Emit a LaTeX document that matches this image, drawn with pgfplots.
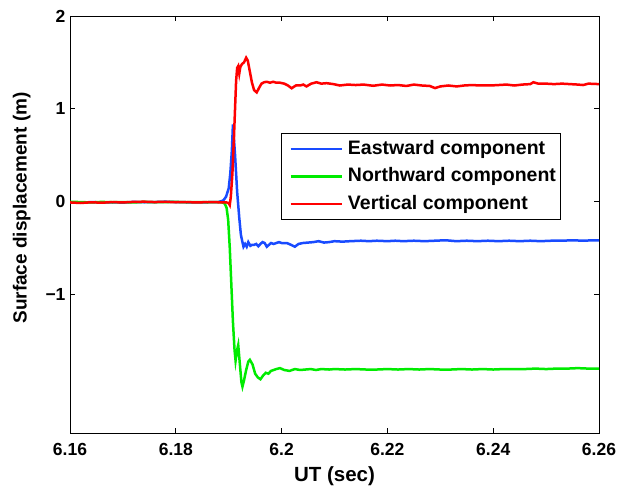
\documentclass[border=0pt]{standalone}
\usepackage{pgfplots}
\pgfplotsset{compat=1.18}
\usepackage{fontspec}
\setmainfont{Liberation Sans}
\definecolor{cblue}{RGB}{25,75,255}
\definecolor{cgreen}{RGB}{0,235,0}
\definecolor{cred}{RGB}{255,0,0}
\begin{document}
\begin{tikzpicture}
\begin{axis}[
  scale only axis, width=529pt, height=417pt,
  xmin=6.16, xmax=6.26, ymin=-2.5, ymax=2,
  xtick={6.16,6.18,6.20,6.22,6.24,6.26},
  xticklabels={6.16,6.18,6.2,6.22,6.24,6.26},
  ytick={-1,0,1,2}, yticklabels={−1,0,1,2},
  tick align=inside, tick pos=both, major tick length=5pt,
  axis line style={line width=0.9pt},
  every tick/.style={line width=0.8pt, black},
  ticklabel style={font=\fontsize{17.5}{20}\selectfont\bfseries},
  xticklabel style={anchor=base, yshift=-22pt},
  yticklabel style={xshift=-1pt},
  xlabel={UT (sec)}, ylabel={Surface displacement (m)},
  every axis x label/.style={at={(axis description cs:0.5,-0.1168)}, anchor=base,
    font=\fontsize{20.5}{24}\selectfont\bfseries},
  every axis y label/.style={at={(axis description cs:-0.0913,0.5396)}, rotate=90, anchor=center,
    font=\fontsize{19}{23}\selectfont\bfseries},
  legend style={at={(axis description cs:0.399,0.719)}, anchor=north west,
    draw=black, line width=0.8pt, fill=white,
    font=\fontsize{19.5}{22}\selectfont\bfseries,
    row sep=5.5pt, inner xsep=2pt, inner ysep=4.5pt,
    nodes={inner xsep=2pt, text height=14pt, text depth=4pt}},
  legend cell align=left,
  legend image code/.code={\draw[#1, line width=2.5pt] (6pt,0pt) -- (57pt,0pt); \path (0pt,0pt) (60pt,0pt);},
  clip=true,
]
\coordinate (sw) at (rel axis cs:0,0);
\coordinate (ne) at (rel axis cs:1,1);
% Eastward
\addplot[cblue, line width=2.5pt] coordinates {
(6.160,-0.010) (6.162,-0.015) (6.164,-0.008) (6.166,-0.012) (6.168,-0.010)
(6.170,-0.014) (6.172,-0.006) (6.174,-0.010) (6.176,-0.008) (6.178,-0.004)
(6.180,-0.008) (6.182,-0.010) (6.184,-0.012) (6.186,-0.010) (6.188,-0.008)
(6.1885,0.00) (6.189,0.01) (6.1895,0.05) (6.1900,0.14) (6.1903,0.30)
(6.1906,0.55) (6.1908,0.83) (6.1912,0.50) (6.1916,0.10) (6.1920,-0.18)
(6.1923,-0.36) (6.1926,-0.44) (6.1928,-0.49) (6.1931,-0.46) (6.1934,-0.49)
(6.1937,-0.44) (6.1941,-0.48) (6.1944,-0.47) (6.1948,-0.47) (6.1952,-0.46)
(6.1956,-0.485) (6.1960,-0.46) (6.1964,-0.44) (6.1968,-0.45) (6.1972,-0.49)
(6.1976,-0.47) (6.1980,-0.45) (6.1985,-0.46) (6.1990,-0.45) (6.1995,-0.44)
(6.2000,-0.45) (6.2010,-0.45) (6.2018,-0.47) (6.2025,-0.49) (6.2032,-0.46)
(6.2040,-0.45) (6.2050,-0.445) (6.2060,-0.44) (6.2070,-0.43) (6.2080,-0.445)
(6.2090,-0.44) (6.2100,-0.43) (6.2115,-0.435) (6.2130,-0.43) (6.2150,-0.425)
(6.2165,-0.43) (6.2180,-0.425) (6.2200,-0.43) (6.2215,-0.425) (6.2230,-0.43)
(6.2250,-0.425) (6.2270,-0.43) (6.2290,-0.425) (6.2310,-0.42) (6.2330,-0.43)
(6.2350,-0.425) (6.2370,-0.43) (6.2390,-0.425) (6.2410,-0.43) (6.2430,-0.425)
(6.2450,-0.43) (6.2470,-0.425) (6.2490,-0.43) (6.2510,-0.425) (6.2530,-0.425)
(6.2550,-0.42) (6.2570,-0.425) (6.2590,-0.42) (6.2600,-0.42)
};
\addlegendentry{Eastward component}
% Northward
\addplot[cgreen, line width=2.5pt] coordinates {
(6.160,-0.005) (6.162,-0.008) (6.164,-0.012) (6.166,-0.006) (6.168,-0.010)
(6.170,-0.008) (6.172,-0.012) (6.174,-0.006) (6.176,-0.010) (6.178,-0.008)
(6.180,-0.006) (6.182,-0.010) (6.184,-0.008) (6.186,-0.010) (6.188,-0.008)
(6.1885,-0.01) (6.1890,-0.015) (6.1893,-0.03) (6.1896,-0.07) (6.1899,-0.20)
(6.1902,-0.50) (6.1905,-0.90) (6.1908,-1.30) (6.1911,-1.60) (6.1913,-1.72)
(6.1916,-1.60) (6.1918,-1.55) (6.1921,-1.75) (6.1924,-1.95) (6.1926,-2.00)
(6.1929,-1.93) (6.1933,-1.82) (6.1937,-1.73) (6.1940,-1.71) (6.1945,-1.76)
(6.1950,-1.86) (6.1955,-1.90) (6.1960,-1.92) (6.1965,-1.88) (6.1970,-1.85)
(6.1975,-1.86) (6.1980,-1.83) (6.1985,-1.82) (6.1990,-1.81) (6.1997,-1.80)
(6.2005,-1.82) (6.2015,-1.83) (6.2025,-1.81) (6.2035,-1.82) (6.2045,-1.815)
(6.2055,-1.81) (6.2065,-1.82) (6.2075,-1.81) (6.2090,-1.815) (6.2100,-1.81)
(6.2120,-1.815) (6.2140,-1.81) (6.2160,-1.815) (6.2180,-1.815) (6.2200,-1.81)
(6.2220,-1.815) (6.2240,-1.81) (6.2260,-1.815) (6.2280,-1.81) (6.2300,-1.815)
(6.2320,-1.815) (6.2340,-1.81) (6.2360,-1.815) (6.2380,-1.81) (6.2400,-1.815)
(6.2420,-1.81) (6.2440,-1.81) (6.2460,-1.81) (6.2480,-1.805) (6.2500,-1.81)
(6.2520,-1.805) (6.2540,-1.805) (6.2560,-1.80) (6.2580,-1.805) (6.2600,-1.805)
};
\addlegendentry{Northward component}
% Vertical
\addplot[cred, line width=2.5pt] coordinates {
(6.160,-0.012) (6.162,-0.018) (6.164,-0.010) (6.166,-0.015) (6.168,-0.008)
(6.170,-0.012) (6.172,-0.006) (6.174,-0.004) (6.176,-0.008) (6.178,-0.005)
(6.180,-0.010) (6.182,-0.008) (6.184,-0.012) (6.186,-0.008) (6.188,-0.010)
(6.1890,-0.01) (6.1895,-0.01) (6.1900,-0.02) (6.1902,-0.04) (6.1904,0.05)
(6.1907,0.30) (6.1910,0.70) (6.1912,1.00) (6.1914,1.30) (6.1916,1.44)
(6.1918,1.46) (6.1920,1.38) (6.1922,1.45) (6.1925,1.48) (6.1929,1.50)
(6.1933,1.55) (6.1936,1.52) (6.1940,1.40) (6.1944,1.28) (6.1948,1.20)
(6.1953,1.175) (6.1957,1.22) (6.1962,1.27) (6.1967,1.285) (6.1972,1.29)
(6.1978,1.28) (6.1984,1.29) (6.1990,1.28) (6.1997,1.28) (6.2005,1.27)
(6.2012,1.25) (6.2019,1.22) (6.2027,1.25) (6.2035,1.25) (6.2041,1.26)
(6.2047,1.24) (6.2056,1.27) (6.2066,1.285) (6.2075,1.27) (6.2085,1.275)
(6.2098,1.265) (6.2110,1.25) (6.2125,1.26) (6.2140,1.255) (6.2155,1.26)
(6.2173,1.247) (6.2190,1.26) (6.2205,1.25) (6.2220,1.255) (6.2236,1.245)
(6.2250,1.26) (6.2265,1.25) (6.2280,1.245) (6.2290,1.222) (6.2300,1.24)
(6.2315,1.25) (6.2331,1.24) (6.2345,1.25) (6.2360,1.255) (6.2375,1.25)
(6.2394,1.25) (6.2410,1.255) (6.2425,1.26) (6.2440,1.25) (6.2455,1.26)
(6.2470,1.265) (6.2476,1.285) (6.2485,1.27) (6.2500,1.27) (6.2515,1.265)
(6.2530,1.27) (6.2545,1.265) (6.2560,1.26) (6.2570,1.255) (6.2580,1.27)
(6.2600,1.265)
};
\addlegendentry{Vertical component}
\end{axis}
\pgfresetboundingbox
\path[use as bounding box] ([shift={(-70pt,-54pt)}]sw) rectangle ([shift={(18pt,16pt)}]ne);
\end{tikzpicture}
\end{document}
